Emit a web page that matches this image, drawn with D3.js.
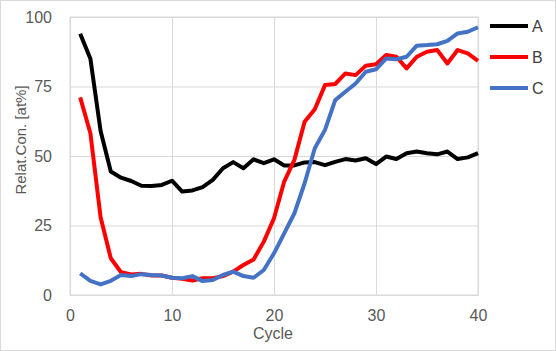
<!DOCTYPE html>
<html>
<head>
<meta charset="utf-8">
<script src="https://cdn.jsdelivr.net/npm/d3@7"></script>
<style>
  html, body { margin: 0; padding: 0; background: #fff; }
  svg { display: block; font-family: "Liberation Sans", Arial, sans-serif; }
</style>
</head>
<body>
<div id="chart"></div>
<script>
// Relative concentration vs cycle, three series

const cycles = d3.range(1, 41);
const seriesNames = ['A', 'B', 'C'];
const seriesColors = ['#000000', '#ff0000', '#4472c4'];

const valuesA = [94, 85, 59, 44.4, 42.2, 41, 39.3, 39.2, 39.6, 41.1, 37.2, 37.6, 38.8, 41.4, 45.6, 47.8, 45.6, 48.8, 47.4, 48.8,
                 46.6, 46.6, 47.7, 47.8, 46.7, 47.9, 48.9, 48.4, 49.2, 47.1, 49.8, 48.9, 51, 51.6, 51, 50.6, 51.6, 48.9, 49.5, 51];
const valuesB = [71.1, 58.2, 28, 13.2, 8.2, 7.4, 7.6, 7, 7, 6.2, 5.8, 5.2, 6, 6, 6.8, 8.4, 10.8, 12.8, 19.2, 27.6,
                 40.8, 48.6, 62.3, 66.8, 75.5, 75.9, 79.7, 79.1, 82.5, 83, 86.3, 85.7, 81.5, 85.7, 87.5, 88.1, 83.3, 88.1, 86.9, 84.2];
const valuesC = [7.8, 5.1, 3.8, 5.1, 7.2, 6.8, 7.5, 7.2, 7, 6.2, 6, 6.8, 5, 5.4, 7.2, 8.4, 6.8, 6.2, 9, 15,
                 22.2, 29.4, 40.2, 52.8, 59.4, 70.1, 73.1, 76.1, 80.3, 81.2, 85.1, 84.8, 85.7, 89.7, 89.9, 90.2, 91.4, 94.1, 94.7, 96.3];

const xTicks = [0, 10, 20, 30, 40];
const yTicks = [0, 25, 50, 75, 100];

const W = 556, H = 351;
const margin = { top: 17, right: 78, bottom: 56, left: 70 };
const w = W - margin.left - margin.right;
const h = H - margin.top - margin.bottom;

const svg = d3.select('#chart').append('svg')
  .attr('width', W).attr('height', H);

// outer frame
svg.append('rect')
  .attr('x', 0.5).attr('y', 0.5).attr('width', W - 1).attr('height', H - 1)
  .attr('fill', '#fff').attr('stroke', '#d9d9d9');

const g = svg.append('g').attr('transform', `translate(${margin.left},${margin.top})`);

const x = d3.scaleLinear().domain([0, 40]).range([0, w]);
const y = d3.scaleLinear().domain([0, 100]).range([h, 0]);

// grid
g.append('g')
  .call(d3.axisLeft(y).tickValues(yTicks).tickSize(-w).tickFormat(''))
  .call(a => a.select('.domain').remove())
  .call(a => a.selectAll('line').attr('stroke', '#d9d9d9'));
g.append('g')
  .call(d3.axisBottom(x).tickValues(xTicks).tickSize(h).tickFormat(''))
  .call(a => a.select('.domain').remove())
  .call(a => a.selectAll('line').attr('stroke', '#d9d9d9'));

// plot area border
g.append('rect')
  .attr('x', 0).attr('y', 0).attr('width', w).attr('height', h)
  .attr('fill', 'none').attr('stroke', '#d9d9d9');

// tick labels
const yAxis = g.append('g')
  .call(d3.axisLeft(y).tickValues(yTicks).tickSize(0).tickPadding(18));
yAxis.select('.domain').remove();
yAxis.selectAll('text').attr('fill', '#595959').style('font-size', '16px')
  .style('font-family', '"Liberation Sans", Arial, sans-serif');

const xAxis = g.append('g')
  .attr('transform', `translate(0,${h})`)
  .call(d3.axisBottom(x).tickValues(xTicks).tickSize(0).tickPadding(15));
xAxis.select('.domain').attr('stroke', '#d9d9d9');
xAxis.selectAll('text').attr('fill', '#595959').style('font-size', '16px')
  .style('font-family', '"Liberation Sans", Arial, sans-serif');

// axis titles
svg.append('text')
  .attr('x', 273).attr('y', 339).attr('text-anchor', 'middle')
  .attr('fill', '#595959').style('font-size', '16px')
  .text('Cycle');

svg.append('text')
  .attr('transform', 'translate(26,140) rotate(-90)')
  .attr('text-anchor', 'middle')
  .attr('fill', '#595959').style('font-size', '15px')
  .text('Relat.Con. [at%]');

// lines
const allValues = [valuesA, valuesB, valuesC];
const line = d3.line().x((d, i) => x(cycles[i])).y(d => y(d));

allValues.forEach((vals, k) => {
  g.append('path')
    .datum(vals)
    .attr('fill', 'none')
    .attr('stroke', seriesColors[k])
    .attr('stroke-width', 4)
    .attr('stroke-linejoin', 'round')
    .attr('d', line);
});

// legend
const leg = svg.append('g').attr('transform', 'translate(490,26)');
seriesNames.forEach((name, k) => {
  const row = leg.append('g').attr('transform', `translate(0,${k * 31})`);
  row.append('line').attr('x1', 0).attr('x2', 38)
    .attr('stroke', seriesColors[k]).attr('stroke-width', 4);
  row.append('text').attr('x', 42).attr('y', 0).attr('dy', '0.35em')
    .attr('fill', '#404040').style('font-size', '16px')
    .text(name);
});
</script>
</body>
</html>
